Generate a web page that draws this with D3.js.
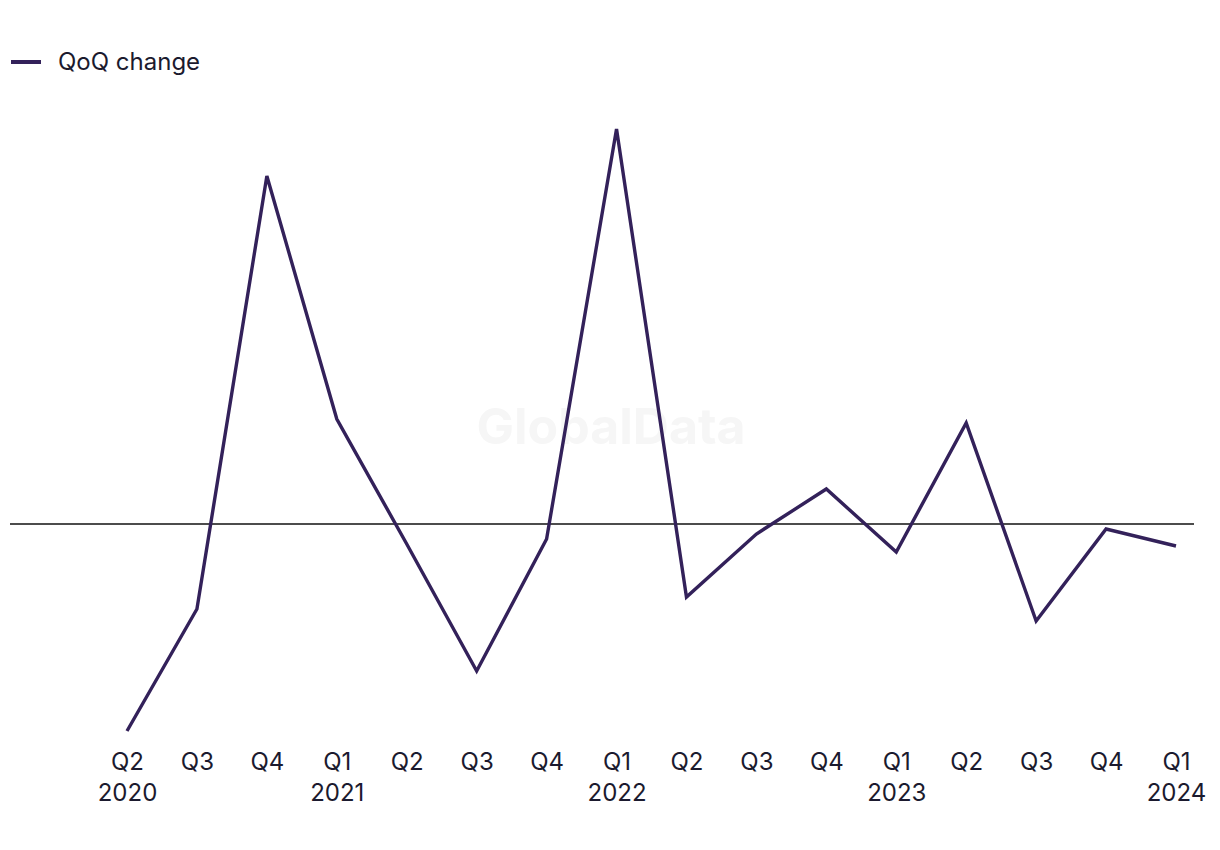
<!DOCTYPE html>
<html>
<head>
<meta charset="utf-8">
<script src="https://cdn.jsdelivr.net/npm/d3@7"></script>
<style>
  body { margin: 0; background: #fff; }
  svg { display: block; font-family: Inter, "Noto Sans", sans-serif; }
</style>
</head>
<body>
<svg id="chart" width="1220" height="850"></svg>
<script>
// quarterly labels, two lines each (quarter / year shown on Q1 and the first point)
var quarters = ["Q2", "Q3", "Q4", "Q1", "Q2", "Q3", "Q4", "Q1", "Q2", "Q3", "Q4", "Q1", "Q2", "Q3", "Q4", "Q1"];
var years = ["2020", "", "", "2021", "", "", "", "2022", "", "", "", "2023", "", "", "", "2024"];
// QoQ change, % (no axis in the original)
var qoqChange = [-20.7, -8.5, 34.8, 10.5, -2.0, -14.7, -1.5, 39.5, -7.3, -1.0, 3.5, -2.8, 10.1, -9.7, -0.5, -2.2];

var svg = d3.select("#chart");
var ink = "#1b1a2e";
var lineColor = "#33215a";

var x = d3.scalePoint()
  .domain(d3.range(quarters.length))
  .range([127, 1176]);

var y = d3.scaleLinear()
  .domain([-25, 45])
  .range([774, 74]);

// watermark
svg.append("text")
  .attr("x", 611)
  .attr("y", 444)
  .attr("text-anchor", "middle")
  .attr("font-size", 50)
  .attr("font-weight", "bold")
  .attr("fill", "#f6f6f6")
  .text("GlobalData");

// legend
svg.append("line")
  .attr("x1", 11).attr("x2", 41)
  .attr("y1", 62).attr("y2", 62)
  .attr("stroke", lineColor)
  .attr("stroke-width", 4);
svg.append("text")
  .attr("x", 58)
  .attr("y", 70)
  .attr("font-size", 24)
  .attr("fill", ink)
  .text("QoQ change");

// zero line
svg.append("line")
  .attr("x1", 10).attr("x2", 1194)
  .attr("y1", y(0)).attr("y2", y(0))
  .attr("stroke", "#111")
  .attr("stroke-width", 1.5);

// x axis labels
var axis = d3.axisBottom(x)
  .tickSize(0)
  .tickPadding(0)
  .tickFormat(function(i) { return quarters[i]; });

var gx = svg.append("g")
  .attr("transform", "translate(0,753)")
  .call(axis);
gx.select(".domain").remove();
gx.selectAll(".tick text")
  .attr("font-size", 24)
  .attr("font-family", "Inter, sans-serif")
  .attr("fill", ink)
  .attr("dy", 17)
  .each(function(i) {
    if (years[i]) {
      d3.select(this).append("tspan")
        .attr("x", 0)
        .attr("dy", 31)
        .text(years[i]);
    }
  });

// the series
var line = d3.line()
  .x(function(d, i) { return x(i); })
  .y(function(d) { return y(d); });

svg.append("path")
  .datum(qoqChange)
  .attr("fill", "none")
  .attr("stroke", lineColor)
  .attr("stroke-width", 3.4)
  .attr("stroke-linejoin", "miter")
  .attr("d", line);
</script>
</body>
</html>
